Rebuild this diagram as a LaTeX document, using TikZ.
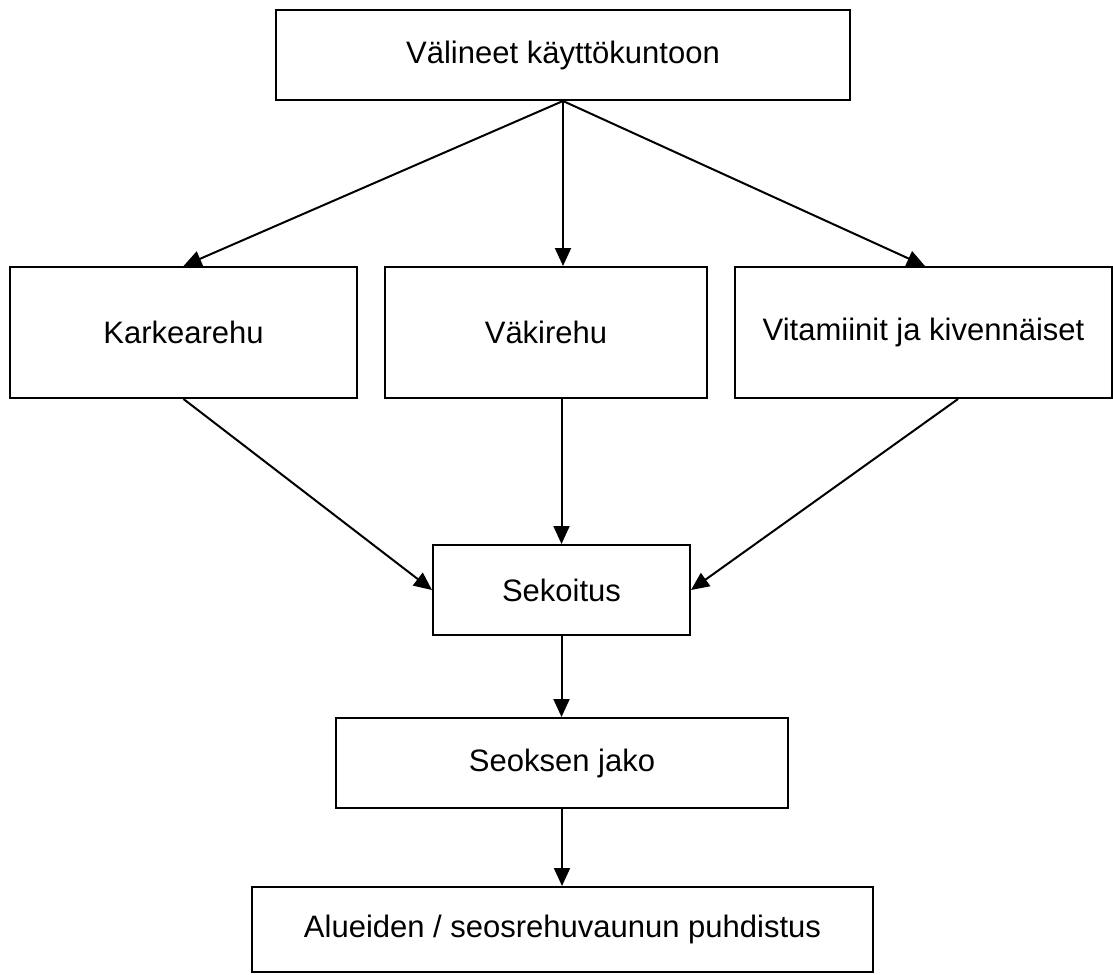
\documentclass[tikz,border=0pt]{standalone}
\usepackage{fontspec}
\setmainfont{Liberation Sans}
\usetikzlibrary{arrows.meta,calc}
\begin{document}
\begin{tikzpicture}[x=1pt,y=-1pt,
  stepbox/.style={draw=black,line width=2pt,rectangle,inner sep=0pt,
    font=\fontsize{31}{37}\selectfont,align=center},
  flow/.style={line width=2pt,-{Triangle[length=18pt,width=16pt]}}]
\useasboundingbox (0,0) rectangle (1113,974);
% process steps
\node[stepbox,minimum width=574pt,minimum height=90pt] (top) at (563,55) {Välineet käyttökuntoon};
\node[stepbox,minimum width=347pt,minimum height=131pt] (karke) at (183.5,332.5) {Karkearehu};
\node[stepbox,minimum width=322pt,minimum height=131pt] (vaki) at (546,332.5) {Väkirehu};
\node[stepbox,minimum width=377pt,minimum height=131pt] (vita) at (923.5,332.5) {Vitamiinit ja kivennäiset};
\node[stepbox,minimum width=257pt,minimum height=90pt] (sekoi) at (561.5,590) {Sekoitus};
\node[stepbox,minimum width=452pt,minimum height=90pt] (seoks) at (562,763) {Seoksen jako};
\node[stepbox,minimum width=621pt,minimum height=85pt] (alue) at (562.5,929.5) {Alueiden / seosrehuvaunun puhdistus};
% connectors
\coordinate (vitaout) at ($(vita.south)+(34.5,0)$);
\draw[flow] (top.south) -- (karke.north);
\draw[flow] (top.south) -- (top.south |- vaki.north);
\draw[flow] (top.south) -- ($(vita.north)+(1.5,0)$);
\draw[flow] (karke.south) -- (sekoi.west);
\draw[flow] (sekoi.north |- vaki.south) -- (sekoi.north);
\draw[flow] (vitaout) -- (sekoi.east);
\draw[flow] (sekoi.south) -- (sekoi.south |- seoks.north);
\draw[flow] (seoks.south) -- (seoks.south |- alue.north);
\end{tikzpicture}
\end{document}
